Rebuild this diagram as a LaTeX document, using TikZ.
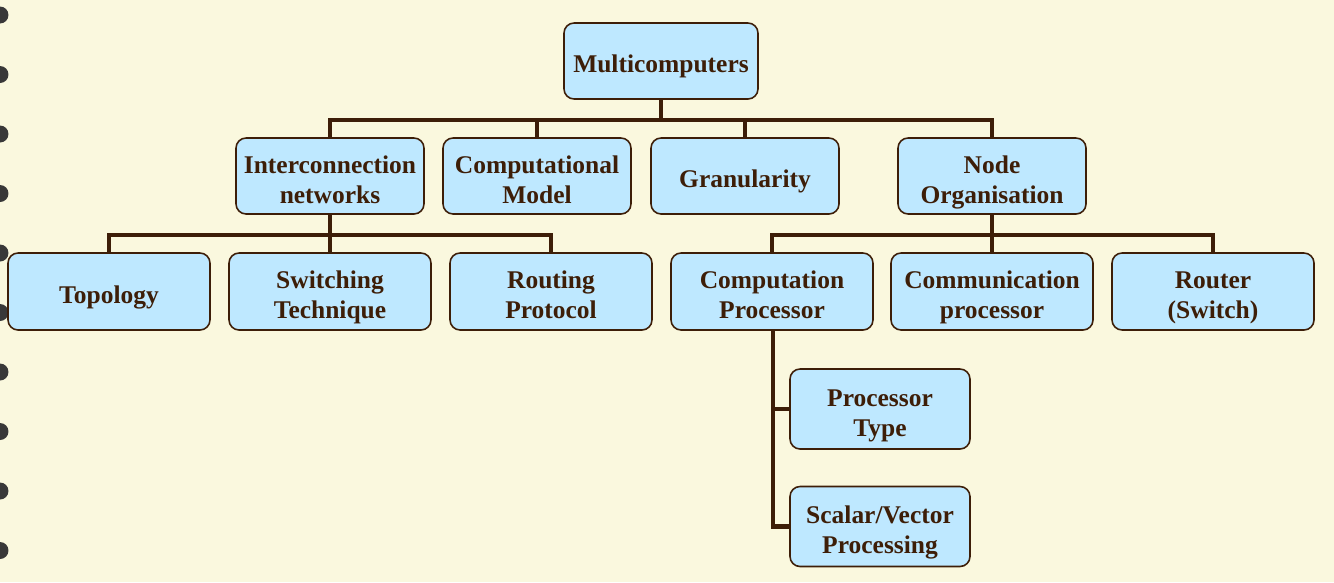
\documentclass[tikz,border=0pt]{standalone}
\usepackage{fontspec}
\setmainfont{Liberation Serif}
\usepackage{xcolor}
\definecolor{paper}{RGB}{250,248,222}
\definecolor{boxblue}{RGB}{190,232,255}
\definecolor{darkbrown}{RGB}{61,30,8}
\tikzset{box/.style={draw=darkbrown, line width=0.9pt, fill=boxblue, rounded corners=0.2cm,
   align=center, text=darkbrown, inner sep=0pt,
   execute at begin node={\rule[-5pt]{0pt}{23.6pt}},
   font=\fontsize{14.5}{17}\selectfont\bfseries},
 twoline/.style={execute at begin node={\rule[-5pt]{0pt}{40.9pt}}},
 topbox/.style={box, minimum width=3.88cm, minimum height=1.52cm},
 midbox/.style={box, minimum width=3.76cm, minimum height=1.52cm},
 lowbox/.style={box, minimum width=4.04cm, minimum height=1.54cm},
 subbox/.style={box, minimum width=3.6cm, minimum height=1.6cm},
 link/.style={draw=darkbrown, line width=2.4pt},
 hole/.style={fill=black!78},
 }

\begin{document}
\begin{tikzpicture}[x=0.02cm, y=-0.02cm]
        \fill[paper] (0,0) rectangle (1334,582);
        \useasboundingbox (0,0) rectangle (1334,582);
        \foreach \y in {15,74.5,...,560} {
            \fill[hole] (0,\y) circle (0.17cm);
        }
        % level one and two
        \node[topbox] (multi) at (661,61) {Multicomputers};
        \node[midbox, twoline] (inet) at (330,176) {Interconnection\\networks};
        \node[midbox, twoline] (model) at (537,176) {Computational\\Model};
        \node[midbox] (gran) at (745,176) {Granularity};
        \node[midbox, twoline] (nodeorg) at (992,176) {Node\\Organisation};
        % level three
        \node[lowbox] (topo) at (109,291.5) {Topology};
        \node[lowbox, twoline] (switching) at (330,291.5) {Switching\\Technique};
        \node[lowbox, twoline] (routing) at (551,291.5) {Routing\\Protocol};
        \node[lowbox, twoline] (compproc) at (772,291.5) {Computation\\Processor};
        \node[lowbox, twoline] (commproc) at (992,291.5) {Communication\\processor};
        \node[lowbox, twoline] (router) at (1213,291.5) {Router\\(Switch)};
        % level four
        \node[subbox, twoline] (proctype) at (880,409) {Processor\\Type};
        \node[subbox, twoline] (scalar) at (880,526.5) {Scalar/Vector\\Processing};

        \coordinate (bar1) at (661,120);
        \coordinate (bar2) at (330,235);
        \coordinate (bar3) at (992,235);
        \coordinate (trunk) at (773,409);

        \draw[link] (multi.south) -- (bar1);
        \foreach \child in {inet, model, gran, nodeorg} {
            \draw[link] (bar1) -| (\child.north);
        }
        \draw[link] (inet.south) -- (bar2);
        \foreach \child in {topo, switching, routing} {
            \draw[link] (bar2) -| (\child.north);
        }
        \draw[link] (nodeorg.south) -- (bar3);
        \foreach \child in {compproc, commproc, router} {
            \draw[link] (bar3) -| (\child.north);
        }
        \draw[link] (compproc.south -| trunk) -- (trunk) -- (proctype.west);
        \draw[link] (trunk) |- (scalar.west);
\end{tikzpicture}
\end{document}
